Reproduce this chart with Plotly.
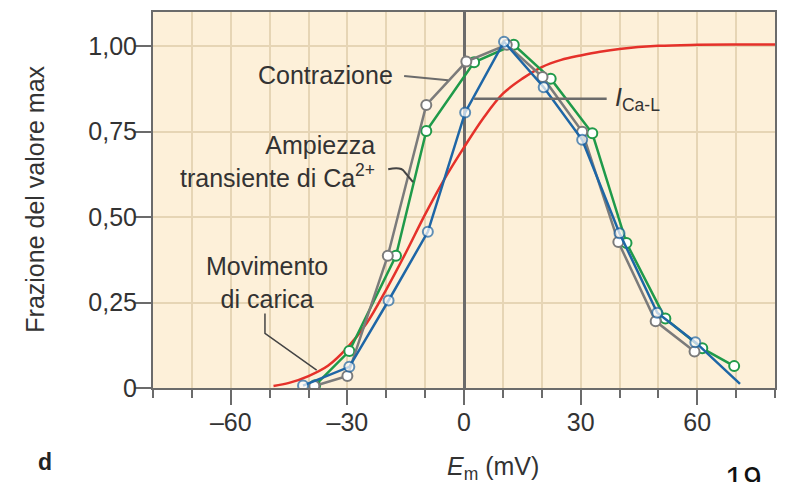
import plotly.graph_objects as go

# ---- data ----
contr_x = [-38.5, -30, -19.6, -9.7, 0.6, 11, 20.2, 30.4, 39.7, 49.3, 59.3]
contr_y = [0.006, 0.035, 0.387, 0.828, 0.955, 1.004, 0.910, 0.750, 0.427, 0.195, 0.107]

ca_x = [-38.3, -29.5, -17.5, -9.7, 2.6, 12.8, 22.3, 33.0, 41.8, 51.8, 61.3, 69.5]
ca_y = [0.008, 0.108, 0.387, 0.752, 0.953, 1.004, 0.905, 0.745, 0.424, 0.203, 0.116, 0.064]

ical_x = [-41.4, -29.5, -19.4, -9.3, 0.3, 10.3, 20.5, 30.4, 40.0, 49.7, 59.5, 71.0]
ical_y = [0.007, 0.062, 0.256, 0.457, 0.806, 1.013, 0.880, 0.726, 0.453, 0.220, 0.134, 0.012]
ical_marker = [10, 10, 10, 10, 10, 10, 10, 10, 10, 10, 10, 0]

charge_x = [-49, -45, -40, -35, -30, -25, -20, -15, -10, -5, 0, 5, 10, 15, 20, 25, 30, 35, 40, 50, 60, 70, 80]
charge_y = [0.006, 0.015, 0.035, 0.065, 0.118, 0.19, 0.288, 0.395, 0.508, 0.612, 0.704, 0.790, 0.861, 0.905,
            0.939, 0.960, 0.973, 0.984, 0.992, 1.001, 1.004, 1.005, 1.005]

x_tickvals = [-60, -30, 0, 30, 60]
x_ticktext = ["\u201360", "\u201330", "0", "30", "60"]
y_tickvals = [0, 0.25, 0.5, 0.75, 1.0]
y_ticktext = ["0", "0,25", "0,50", "0,75", "1,00"]

# ---- styles ----
GRAY = "#7b7b7b"
GREEN = "#1f9a4a"
BLUE = "#1e66a6"
RED = "#e5312a"
AX = "#6b6b6b"
GRID = "#e6d5b5"
BG = "#fdf0d9"
TXT = "#333333"
FONT = "Liberation Sans, Arial, sans-serif"
FS = 25

fig = go.Figure()

fig.add_trace(go.Scatter(x=charge_x, y=charge_y, mode="lines", line=dict(color=RED, width=2.5, shape="spline"),
                         name="Movimento di carica"))
fig.add_trace(go.Scatter(x=ca_x, y=ca_y, mode="lines+markers", line=dict(color=GREEN, width=2.5),
                         marker=dict(size=10, color="white", line=dict(color=GREEN, width=2)),
                         name="Ampiezza transiente di Ca2+"))
fig.add_trace(go.Scatter(x=contr_x, y=contr_y, mode="lines+markers", line=dict(color=GRAY, width=2.5),
                         marker=dict(size=10, color="white", line=dict(color=GRAY, width=2)),
                         name="Contrazione"))
fig.add_trace(go.Scatter(x=ical_x, y=ical_y, mode="lines+markers", line=dict(color=BLUE, width=2.5),
                         marker=dict(size=ical_marker, color="white", line=dict(color=BLUE, width=2)),
                         name="I Ca-L"))


def seg(pts):
    return "M " + " L ".join(f"{x},{y}" for x, y in pts)


shapes = [
    dict(type="path", path=seg([(-15.4, 0.913), (-4.1, 0.900)]), line=dict(color=AX, width=2)),
    dict(type="path", path="M -19.5,0.640 Q -16.2,0.648 -15.4,0.634 L -13.1,0.602", line=dict(color="#444444", width=2)),
    dict(type="path", path=seg([(-51.2, 0.218), (-51.2, 0.160), (-37.9, 0.052)]), line=dict(color="#444444", width=1.5)),
    dict(type="path", path=seg([(2.6, 0.846), (36.7, 0.846)]), line=dict(color=AX, width=2.5)),
]

tf = dict(family=FONT, size=FS, color=TXT)
annotations = [
    dict(x=-17.7, y=0.916, xref="x", yref="y", text="Contrazione", showarrow=False, xanchor="right",
         yanchor="middle", font=tf),
    dict(x=-22.4, y=0.662, xref="x", yref="y", text="Ampiezza<br>transiente di Ca<sup>2+</sup>", showarrow=False,
         xanchor="right", yanchor="middle", align="right", font=tf),
    dict(x=-50.8, y=0.308, xref="x", yref="y", text="Movimento<br>di carica", showarrow=False,
         xanchor="center", yanchor="middle", align="center", font=tf),
    dict(x=38.3, y=0.846, xref="x", yref="y", text="<i>I</i><sub>Ca-L</sub>", showarrow=False,
         xanchor="left", yanchor="middle", font=dict(family=FONT, size=FS, color=TXT)),
    dict(x=7.5, y=-0.212, xref="x", yref="paper", text="<i>E</i><sub>m</sub> (mV)", showarrow=False,
         xanchor="center", yanchor="middle", font=tf),
    dict(x=-0.19, y=0.503, xref="paper", yref="paper", text="Frazione del valore max", textangle=-90,
         showarrow=False, xanchor="center", yanchor="middle", font=tf),
    dict(x=-0.174, y=-0.198, xref="paper", yref="paper", text="<b>d</b>", showarrow=False,
         xanchor="center", yanchor="middle", font=dict(family=FONT, size=23, color="#222222")),
    dict(x=0.9486, y=-0.185, xref="paper", yref="paper", text="19", showarrow=False,
         xanchor="center", yanchor="top", font=dict(family=FONT, size=33, color="#111111")),
]

fig.update_layout(
    width=788, height=482,
    margin=dict(l=153, r=13, t=10, b=94),
    paper_bgcolor="white", plot_bgcolor=BG,
    showlegend=False,
    shapes=shapes, annotations=annotations,
    font=dict(family=FONT, color=TXT),
    xaxis=dict(range=[-80, 80], tickvals=x_tickvals, ticktext=x_ticktext, ticks="outside", ticklen=15,
               tickwidth=2, tickcolor=AX, showgrid=True, gridcolor=GRID, gridwidth=1.5,
               minor=dict(dtick=10, tick0=0, ticks="outside", ticklen=8, tickwidth=2, tickcolor=AX,
                          showgrid=True, gridcolor=GRID, gridwidth=1.5),
               zeroline=True, zerolinecolor=AX, zerolinewidth=2.5,
               showline=True, mirror=True, linecolor=AX, linewidth=2, ticklabelstandoff=-4,
               tickfont=dict(family=FONT, size=FS, color=TXT), fixedrange=True),
    yaxis=dict(range=[0, 1.1], tickvals=y_tickvals, ticktext=y_ticktext, ticks="outside", ticklen=16,
               tickwidth=2, tickcolor=AX, showgrid=True, gridcolor=GRID, gridwidth=1.5,
               zeroline=False, showline=True, mirror=True, linecolor=AX, linewidth=2, ticklabelstandoff=-7,
               tickfont=dict(family=FONT, size=FS, color=TXT), fixedrange=True),
)

fig.write_html("out.html", config={"displayModeBar": False},
               post_script="document.body.style.margin='0px';")
